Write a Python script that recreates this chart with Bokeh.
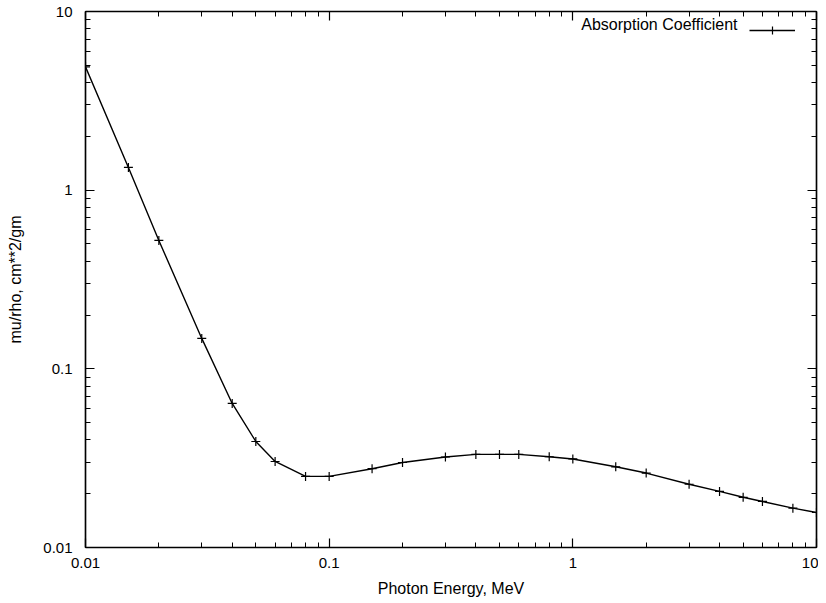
from bokeh.plotting import figure
from bokeh.models import (LogAxis, FixedTicker, CustomJSTickFormatter, Legend, LegendItem,
                          Label, Range1d)
from bokeh.embed import file_html
from bokeh.resources import INLINE

# ---- data ----
energy_mev = [0.01, 0.015, 0.02, 0.03, 0.04, 0.05, 0.06, 0.08, 0.1, 0.15, 0.2, 0.3,
              0.4, 0.5, 0.6, 0.8, 1.0, 1.5, 2.0, 3.0, 4.0, 5.0, 6.0, 8.0, 10.0]
mu_rho = [4.9, 1.34, 0.523, 0.148, 0.064, 0.0392, 0.0303, 0.0250, 0.0250, 0.0276,
          0.0299, 0.0321, 0.0332, 0.0332, 0.0332, 0.0322, 0.0313, 0.0283, 0.0261,
          0.0226, 0.0206, 0.0191, 0.0181, 0.0166, 0.0157]
major_ticks = [0.01, 0.1, 1.0, 10.0]
series_name = "Absorption Coefficient"
x_title = "Photon Energy, MeV"
y_title = "mu/rho, cm**2/gm"

FONT = "Liberation Sans"
minor_ticks = [m * d for d in major_ticks[:-1] for m in range(2, 10)]

p = figure(width=818, height=600, x_axis_type="log", y_axis_type="log",
           x_range=Range1d(0.01, 10), y_range=Range1d(0.01, 10),
           output_backend="svg", toolbar_location=None,
           min_border_left=85, min_border_right=2, min_border_top=11, min_border_bottom=53)
p.background_fill_color = "white"
p.border_fill_color = "white"
p.grid.visible = False
p.outline_line_color = "black"
p.outline_line_width = 1.2

fmt = CustomJSTickFormatter(code="return String(Number(tick.toPrecision(6)));")
blank = CustomJSTickFormatter(code="return '';")

def style_axis(ax, labels=True):
    ax.ticker = FixedTicker(ticks=major_ticks, minor_ticks=minor_ticks)
    ax.major_tick_in = 9
    ax.major_tick_out = 0
    ax.minor_tick_in = 5
    ax.minor_tick_out = 0
    ax.axis_line_color = "black"
    ax.axis_line_width = 1.5
    ax.major_tick_line_color = "black"
    ax.minor_tick_line_color = "black"
    ax.major_tick_line_width = 1.2
    ax.minor_tick_line_width = 1.0
    if labels:
        ax.formatter = fmt
        ax.major_label_text_font = FONT
        ax.major_label_text_font_size = "15px"
        ax.major_label_text_color = "black"
        ax.axis_label_text_font = FONT
        ax.axis_label_text_font_size = "16px"
        ax.axis_label_text_font_style = "normal"
        ax.axis_label_text_color = "black"
    else:
        ax.formatter = blank
        ax.major_label_standoff = 0
        ax.major_label_text_font_size = "1px"

xa = p.xaxis[0]
ya = p.yaxis[0]
style_axis(xa)
style_axis(ya)
xa.axis_label = x_title
ya.axis_label = y_title
xa.major_label_standoff = 10
xa.axis_label_standoff = 9
ya.major_label_standoff = 13
ya.axis_label_standoff = 16

top = LogAxis()
right = LogAxis()
style_axis(top, labels=False)
style_axis(right, labels=False)
p.add_layout(top, "above")
p.add_layout(right, "right")

line = p.line(energy_mev, mu_rho, line_color="black", line_width=1.4)
pts = p.scatter(energy_mev, mu_rho, marker="cross", size=9, line_color="black", line_width=1.2)

legend = Legend(items=[LegendItem(label=" ", renderers=[line, pts])],
                location=(664, 507), orientation="vertical",
                glyph_width=46, glyph_height=20, label_standoff=0, padding=0, margin=0,
                spacing=0, border_line_color=None, background_fill_alpha=0,
                label_text_font_size="1px", label_height=20, label_width=1)
p.add_layout(legend, "center")

legend_text = Label(x=652, y=523, x_units="screen", y_units="screen",
                    text=series_name, text_align="right", text_baseline="middle",
                    text_font=FONT, text_font_size="16px", text_color="black")
p.add_layout(legend_text)

open("out.html", "w").write(file_html(p, INLINE))
